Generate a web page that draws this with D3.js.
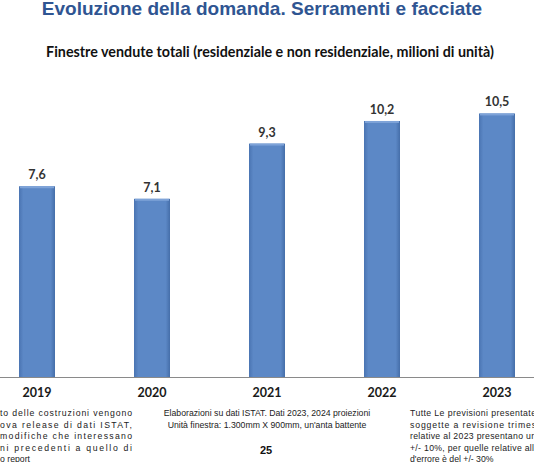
<!DOCTYPE html>
<html>
<head>
	<meta charset="utf-8">
	<title>Finestre vendute totali</title>
	<script src="https://cdn.jsdelivr.net/npm/d3@7"></script>
	<style>
		body { margin: 0; background: #fff; }
		svg { display: block; }
	</style>
</head>
<body>
	<div id="chart"></div>
	<script>

		// data
		const years = ["2019", "2020", "2021", "2022", "2023"];
		const values = [7.6, 7.1, 9.3, 10.2, 10.5];
		const valueLabels = ["7,6", "7,1", "9,3", "10,2", "10,5"];

		const title = "Evoluzione della domanda. Serramenti e facciate";
		const subtitle = "Finestre vendute totali (residenziale e non residenziale, milioni di unità)";
		const noteLeft = [
			"to delle costruzioni vengono",
			"ova release di dati ISTAT,",
			" modifiche che interessano",
			"ni precedenti a quello di",
			"o report"
		];
		const noteCenter = [
			"Elaborazioni su dati ISTAT. Dati 2023, 2024 proiezioni",
			"Unità finestra: 1.300mm X 900mm, un'anta battente"
		];
		const noteRight = [
			"Tutte Le previsioni presentate",
			"soggette a revisione trimes",
			"relative al 2023 presentano un",
			"+/- 10%, per quelle relative all'",
			"d'errore è del +/- 30%"
		];
		const pageNumber = "25";

		const width = 534;
		const height = 462;
		const baseline = 377;

		const svg = d3.select("#chart").append("svg")
			.attr("width", width)
			.attr("height", height)
			.attr("viewBox", [0, 0, width, height]);

		// bevel-ish bar fill
		const defs = svg.append("defs");
		const grad = defs.append("linearGradient").attr("id", "barGrad")
			.attr("x1", 0).attr("x2", 1).attr("y1", 0).attr("y2", 0);
		grad.append("stop").attr("offset", "0%").attr("stop-color", "#4a74b2");
		grad.append("stop").attr("offset", "12%").attr("stop-color", "#5c88c6");
		grad.append("stop").attr("offset", "88%").attr("stop-color", "#5c88c6");
		grad.append("stop").attr("offset", "100%").attr("stop-color", "#456ea9");

		const x = d3.scaleBand()
			.domain(years)
			.range([-20.5, 554.5])
			.paddingInner(0.687)
			.paddingOuter(0.3435);

		const y = d3.scaleLinear()
			.domain([0, 12])
			.range([baseline, baseline - 12 * 25.1]);

		// title + subtitle
		svg.append("text")
			.attr("x", 262).attr("y", 15)
			.attr("text-anchor", "middle")
			.attr("font-family", "Liberation Sans, Arial, sans-serif")
			.attr("font-weight", "bold")
			.attr("font-size", 19)
			.attr("fill", "#2f5592")
			.text(title);

		svg.append("text")
			.attr("x", 270).attr("y", 57)
			.attr("text-anchor", "middle")
			.attr("font-family", "Lato, sans-serif")
			.attr("font-weight", "bold")
			.attr("font-size", 14.3)
			.attr("fill", "#111")
			.text(subtitle);

		// bars
		const bars = svg.append("g");
		bars.selectAll("rect.bar")
			.data(values)
			.join("rect")
			.attr("class", "bar")
			.attr("x", (d, i) => x(years[i]))
			.attr("y", d => y(d))
			.attr("width", x.bandwidth())
			.attr("height", d => y(0) - y(d))
			.attr("fill", "url(#barGrad)");

		// light top edge
		bars.selectAll("rect.cap")
			.data(values)
			.join("rect")
			.attr("class", "cap")
			.attr("x", (d, i) => x(years[i]) + 1)
			.attr("y", d => y(d))
			.attr("width", x.bandwidth() - 2)
			.attr("height", 2)
			.attr("fill", "#7ea3d8");

		// value labels
		svg.append("g").selectAll("text")
			.data(values)
			.join("text")
			.attr("x", (d, i) => x(years[i]) + x.bandwidth() / 2)
			.attr("y", d => y(d) - 7)
			.attr("text-anchor", "middle")
			.attr("font-family", "Lato, sans-serif")
			.attr("font-weight", "bold")
			.attr("font-size", 12.5)
			.attr("fill", "#333")
			.text((d, i) => valueLabels[i]);

		// x axis
		const xAxis = d3.axisBottom(x).tickSize(0).tickPadding(11);
		svg.append("g")
			.attr("transform", `translate(0,${baseline})`)
			.call(xAxis)
			.call(g => g.select(".domain").attr("stroke", "#8a8a8a").attr("d", `M0,0.5H${width}`))
			.call(g => g.selectAll(".tick text")
				.attr("font-family", "Lato, sans-serif")
				.attr("font-weight", "bold")
				.attr("font-size", 12.5)
				.attr("fill", "#1a1a1a"));

		// footer notes
		const noteFont = "Liberation Sans, Arial, sans-serif";
		const lineH = 11.5;

		svg.append("g").selectAll("text")
			.data(noteLeft)
			.join("text")
			.attr("x", 0)
			.attr("y", (d, i) => 416 + i * lineH)
			.attr("font-family", noteFont)
			.attr("font-size", 8.7)
			.attr("fill", "#222")
			.attr("textLength", (d, i) => i < 4 ? 132 : null)
			.attr("lengthAdjust", "spacing")
			.text(d => d);

		svg.append("g").selectAll("text")
			.data(noteCenter)
			.join("text")
			.attr("x", 267)
			.attr("y", (d, i) => 416 + i * lineH)
			.attr("text-anchor", "middle")
			.attr("font-family", noteFont)
			.attr("font-size", 8.7)
			.attr("fill", "#222")
			.text(d => d);

		svg.append("text")
			.attr("x", 266).attr("y", 454)
			.attr("text-anchor", "middle")
			.attr("font-family", noteFont)
			.attr("font-weight", "bold")
			.attr("font-size", 11)
			.attr("fill", "#111")
			.text(pageNumber);

		svg.append("g").selectAll("text")
			.data(noteRight)
			.join("text")
			.attr("x", 410)
			.attr("y", (d, i) => 416 + i * lineH)
			.attr("font-family", noteFont)
			.attr("font-size", 8.7)
			.attr("fill", "#222")
			.attr("textLength", (d, i) => i < 4 ? 126 : null)
			.attr("lengthAdjust", "spacing")
			.text(d => d);

	</script>
</body>
</html>
